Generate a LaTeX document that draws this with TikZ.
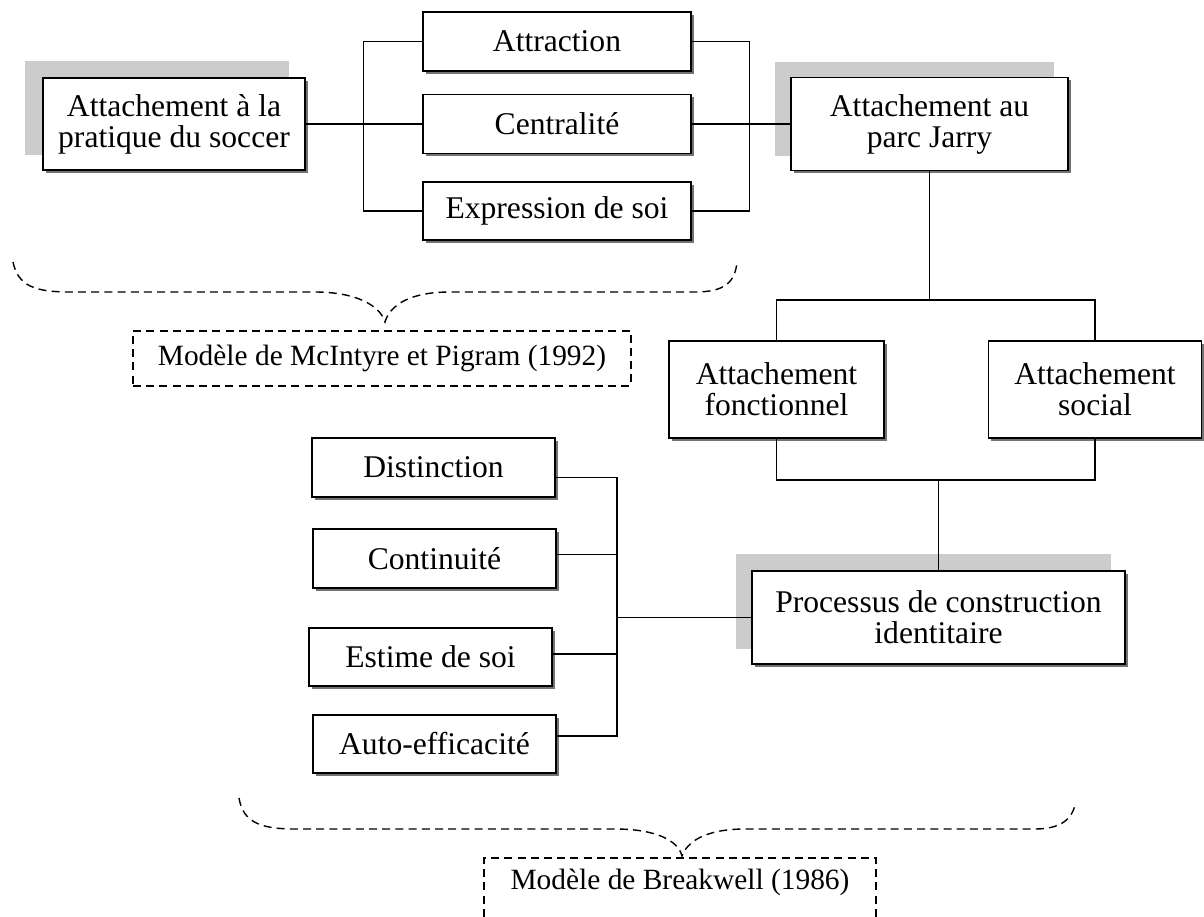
\documentclass[tikz,border=0pt]{standalone}
\usepackage{fontspec}
\setmainfont{Liberation Serif}
\usetikzlibrary{calc,shadows,backgrounds}
\begin{document}
\begin{tikzpicture}[x=0.5pt,y=-0.5pt,
  box/.style={draw, line width=0.75pt, fill=white, align=center, inner sep=0pt,
    font=\fontsize{15.8}{15.5}\selectfont,
    drop shadow={shadow xshift=1.4pt, shadow yshift=-1.4pt, fill=black!55, opacity=1}},
  shadebox/.style={fill=gray!40},
  conn/.style={line width=0.6pt},
  brace/.style={line width=0.7pt, dash pattern=on 4pt off 2.6pt},
  lbl/.style={font=\fontsize{14.7}{16}\selectfont, inner sep=0pt}]
\useasboundingbox (0,0) rectangle (1204,916);
\clip (0,0) rectangle (1204,916);

% boxes
\node[box, minimum width=131pt, minimum height=46pt] (prat) at (174,124) {Attachement à la\\pratique du soccer};
\node[box, minimum width=134pt, minimum height=29.5pt] (attr) at (557,41.5) {Attraction};
\node[box, minimum width=134pt, minimum height=29.5pt] (cent) at (557,124) {Centralité};
\node[box, minimum width=134pt, minimum height=29pt] (expr) at (557,211) {Expression de soi};
\node[box, minimum width=138.5pt, minimum height=46.5pt] (parc) at (929.5,124) {Attachement au\\parc Jarry};
\node[box, minimum width=107.5pt, minimum height=48.5pt] (fonc) at (776.5,389.5) {Attachement\\fonctionnel};
\node[box, minimum width=106.5pt, minimum height=48.5pt] (soc) at (1095,389.5) {Attachement\\social};
\node[box, minimum width=186.5pt, minimum height=46.5pt] (proc) at (938.5,617.5) {Processus de construction\\identitaire};
\node[box, minimum width=121.5pt, minimum height=29.5pt] (dist) at (433.5,467.5) {Distinction};
\node[box, minimum width=121.5pt, minimum height=29.5pt] (cont) at (434.5,558.5) {Continuité};
\node[box, minimum width=121.5pt, minimum height=29pt] (est) at (430.5,657) {Estime de soi};
\node[box, minimum width=121.5pt, minimum height=29pt] (auto) at (434.5,744) {Auto-efficacité};

% grey shades behind main boxes
\begin{scope}[on background layer]
  \fill[shadebox] ($(prat.north west)+(-17,-16)$) rectangle ($(prat.south east)+(-17,-16)$);
  \fill[shadebox] ($(parc.north west)+(-15,-15)$) rectangle ($(parc.south east)+(-15,-15)$);
  \fill[shadebox] ($(proc.north west)+(-15,-16)$) rectangle ($(proc.south east)+(-15,-16)$);
\end{scope}

% connectors, top part
\draw[conn] (prat.east) -- (cent.west);
\draw[conn] (attr.west) -- ++(-59,0) |- (expr.west);
\draw[conn] (attr.east) -- ++(58,0) |- (expr.east);
\draw[conn] (cent.east) -- (parc.west);

\coordinate (top) at (0,300);
\coordinate (bot) at (0,480);
\draw[conn] (parc.south) -- (parc.south |- top);
\draw[conn] (fonc.north) -- (fonc.north |- top) -- (soc.north |- top) -- (soc.north);
\draw[conn] (fonc.south) -- (fonc.south |- bot) -- (soc.south |- bot) -- (soc.south);
\draw[conn] (proc.north |- bot) -- (proc.north);

% Breakwell bracket
\coordinate (bk) at (617,617.5);
\draw[conn] ($(dist.east)+(0,10)$) -| (bk);
\draw[conn] ($(cont.east)+(0,-4)$) -| (bk);
\draw[conn] ($(est.east)+(0,-3)$) -| (bk);
\draw[conn] ($(auto.east)+(0,-8)$) -| (bk);
\draw[conn] (bk) -- (proc.west);

% top brace and label
\draw[brace] (13,262) .. controls (18,286) and (35,292) .. (70,292) -- (315,292)
  .. controls (355,292) and (380,305) .. (385,322)
  .. controls (390,305) and (410,292) .. (450,292) -- (695,292)
  .. controls (725,292) and (735,282) .. (737,262);
\node[lbl, draw, brace, minimum width=249pt, minimum height=27.5pt] (mcl) at (382,358.5) {Modèle de McIntyre et Pigram (1992)};

% bottom brace and label
\draw[brace] (239,798) .. controls (243,822) and (260,829) .. (295,829) -- (615,829)
  .. controls (655,829) and (678,840) .. (682,856)
  .. controls (687,842) and (705,829) .. (745,829) -- (1035,829)
  .. controls (1062,829) and (1072,818) .. (1075,805);
\node[lbl] (brk) at (680,882) {Modèle de Breakwell (1986)};
\draw[brace] (484,930) -- (484,858) -- (876,858) -- (876,930);
\end{tikzpicture}
\end{document}
